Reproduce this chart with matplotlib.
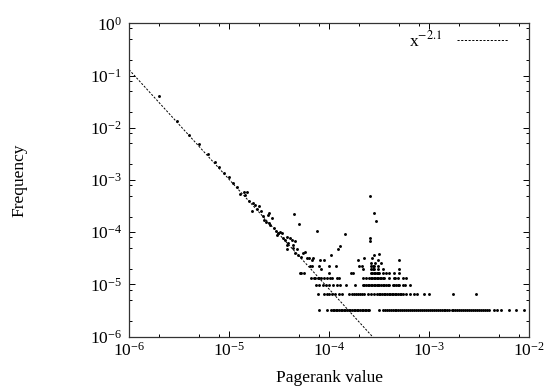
import numpy as np
import matplotlib
matplotlib.use("Agg")
import matplotlib.pyplot as plt
from matplotlib.ticker import LogLocator, NullFormatter

plt.rcParams['font.family'] = ['Liberation Serif', 'DejaVu Serif']
plt.rcParams['mathtext.fontset'] = 'stix'

# pagerank values / frequencies that sit off the quantised rows
free_x = [2.0e-6, 3.0e-6, 4.0e-6, 5.0e-6, 6.1e-6, 7.2e-6, 8.0e-6, 9.0e-6, 1.0e-5, 1.1e-5,
          1.2e-5, 1.3e-5, 1.41e-5, 1.45e-5, 1.5e-5, 1.6e-5, 1.7e-5, 1.73e-5, 1.82e-5, 1.92e-5,
          2.0e-5, 2.07e-5, 2.17e-5, 2.22e-5, 2.37e-5, 2.43e-5, 2.5e-5, 2.5e-5, 2.6e-5, 2.72e-5,
          2.8e-5, 2.95e-5, 3.0e-5, 3.1e-5, 3.2e-5, 3.35e-5, 3.5e-5, 3.64e-5, 3.8e-5, 3.8e-5,
          3.8e-5, 3.93e-5, 4.1e-5, 4.25e-5, 4.35e-5, 4.4e-5, 4.6e-5, 4.6e-5, 4.75e-5, 4.9e-5,
          5.2e-5, 5.55e-5, 5.75e-5, 6.0e-5, 6.35e-5, 6.7e-5, 6.95e-5, 6.4e-5, 6.8e-5, 7.9e-5,
          8.4e-5, 9.0e-5, 4.5e-5, 5.0e-5, 7.5e-5, 8.2e-5, 1.0e-4, 1.18e-4, 1.04e-4, 1.23e-4,
          1.28e-4, 1.43e-4, 1.95e-4, 2.0e-4, 2.12e-4, 2.17e-4, 2.26e-4,
          2.58e-4, 2.8e-4, 2.95e-4, 2.56e-4, 2.56e-4, 2.7e-4, 2.83e-4, 3.19e-4, 3.1e-4, 3.32e-4,
          5.06e-4, 2.63e-4, 2.73e-4, 2.83e-4, 3.1e-4, 2.63e-4, 2.73e-4, 2.83e-4, 3.1e-4, 3.44e-4,
          5.06e-4, 2.63e-4, 2.9e-4]
free_y = [4.0e-2, 1.36e-2, 7.4e-3, 4.9e-3, 3.2e-3, 2.2e-3, 1.75e-3, 1.38e-3, 1.14e-3, 8.7e-4,
          7.2e-4, 5.4e-4, 6.0e-4, 5.2e-4, 6.0e-4, 4.0e-4, 2.56e-4, 3.6e-4, 3.3e-4, 2.75e-4,
          3.2e-4, 2.6e-4, 2.05e-4, 1.72e-4, 1.6e-4, 2.14e-4, 2.3e-4, 1.49e-4, 1.38e-4, 1.85e-4,
          1.19e-4, 1.06e-4, 8.9e-5, 9.6e-5, 1.0e-4, 9.6e-5, 7.7e-5, 7.1e-5, 8.2e-5, 5.7e-5,
          4.8e-5, 6.2e-5, 7.7e-5, 7.1e-5, 5.7e-5, 5.0e-5, 6.8e-5, 4.0e-5, 4.8e-5, 3.7e-5,
          3.4e-5, 4.0e-5, 4.2e-5, 3.27e-5, 3.27e-5, 2.94e-5, 3.27e-5, 2.29e-5, 2.29e-5, 2.29e-5,
          1.96e-5, 2.94e-5, 2.24e-4, 1.44e-4, 1.05e-4, 2.94e-5, 2.29e-5, 2.29e-5, 3.6e-5, 4.8e-5,
          5.5e-5, 9.3e-5, 2.94e-5, 2.29e-5, 2.29e-5, 1.96e-5, 3.27e-5,
          4.95e-4, 2.37e-4, 1.67e-4, 7.9e-5, 6.8e-5, 3.27e-5, 3.6e-5, 3.9e-5, 2.94e-5, 2.62e-5,
          2.94e-5, 2.29e-5, 2.29e-5, 2.29e-5, 2.29e-5, 1.96e-5, 1.96e-5, 1.96e-5, 1.96e-5, 1.96e-5,
          1.96e-5, 2.62e-5, 2.62e-5]

# frequencies of 1..5 pages, and the pagerank values found on each row
row_freq = [3.27e-6, 6.54e-6, 9.8e-6, 1.31e-5, 1.63e-5]
row1_x = [7.9e-5, 9.5e-5, 1.05e-4, 1.09e-4, 1.13e-4, 1.17e-4, 1.21e-4, 1.26e-4, 1.31e-4, 1.36e-4,
          1.41e-4, 1.46e-4, 1.52e-4, 1.58e-4, 1.64e-4, 1.7e-4, 1.76e-4, 1.83e-4, 1.9e-4, 1.97e-4,
          2.05e-4, 2.13e-4, 2.2e-4, 2.29e-4, 2.37e-4, 2.46e-4, 2.54e-4, 3.19e-4, 3.44e-4, 3.6e-4,
          3.77e-4, 3.95e-4, 4.13e-4, 4.32e-4, 4.52e-4, 4.73e-4, 4.95e-4, 5.18e-4, 5.42e-4, 5.67e-4,
          5.93e-4, 6.2e-4, 6.5e-4, 6.8e-4, 7.1e-4, 7.45e-4, 7.8e-4, 8.15e-4, 8.5e-4, 8.9e-4,
          9.3e-4, 9.75e-4, 1.02e-3, 1.07e-3, 1.12e-3, 1.17e-3, 1.22e-3, 1.28e-3, 1.34e-3, 1.4e-3,
          1.46e-3, 1.53e-3, 1.6e-3, 1.68e-3, 1.75e-3, 1.83e-3, 1.92e-3, 2.01e-3, 2.1e-3, 2.2e-3,
          2.3e-3, 2.4e-3, 2.52e-3, 2.63e-3, 2.75e-3, 2.88e-3, 3.02e-3, 3.15e-3, 3.3e-3, 3.45e-3,
          3.6e-3, 3.8e-3, 4.0e-3, 4.5e-3, 4.8e-3, 5.2e-3, 6.3e-3, 7.4e-3, 8.9e-3]
row2_x = [7.7e-5, 9.0e-5, 9.5e-5, 1.01e-4, 1.08e-4, 1.16e-4, 1.25e-4, 1.35e-4, 1.6e-4, 1.68e-4,
          1.76e-4, 1.85e-4, 1.95e-4, 2.05e-4, 2.15e-4, 2.26e-4, 2.44e-4, 2.63e-4, 2.84e-4, 3.03e-4,
          3.15e-4, 3.27e-4, 3.4e-4, 3.53e-4, 3.67e-4, 3.8e-4, 3.95e-4, 4.1e-4, 4.25e-4, 4.4e-4,
          4.55e-4, 4.7e-4, 4.9e-4, 5.1e-4, 5.3e-4, 5.5e-4, 5.9e-4, 6.5e-4, 7.0e-4, 7.6e-4,
          8.9e-4, 1.0e-3, 1.72e-3, 2.94e-3]
row3_x = [7.45e-5, 8.0e-5, 8.7e-5, 9.4e-5, 1.01e-4, 1.09e-4, 1.2e-4, 1.29e-4, 1.49e-4, 1.84e-4,
          2.17e-4, 2.26e-4, 2.35e-4, 2.44e-4, 2.54e-4, 2.63e-4, 2.72e-4, 2.81e-4, 2.9e-4, 3.0e-4,
          3.1e-4, 3.19e-4, 3.3e-4, 3.44e-4, 3.58e-4, 3.72e-4, 3.86e-4, 4.0e-4, 4.34e-4, 4.5e-4,
          4.69e-4, 4.86e-4, 5.06e-4, 5.46e-4, 5.7e-4, 6.4e-4]
row4_x = [6.6e-5, 7.0e-5, 7.3e-5, 7.7e-5, 8.0e-5, 8.4e-5, 9.0e-5, 9.5e-5, 1.03e-4, 1.08e-4,
          1.19e-4, 1.27e-4, 2.17e-4, 2.35e-4, 2.54e-4, 2.63e-4, 2.72e-4, 2.81e-4, 2.9e-4, 3.0e-4,
          3.1e-4, 3.2e-4, 3.32e-4, 3.44e-4, 3.58e-4, 3.95e-4, 4.5e-4, 4.6e-4, 4.86e-4, 5.46e-4,
          5.9e-4]
row5_x = [5.1e-5, 5.3e-5, 5.6e-5, 1.0e-4, 1.67e-4, 1.73e-4, 2.63e-4, 2.72e-4, 2.81e-4, 2.9e-4,
          3.0e-4, 3.1e-4, 3.19e-4, 3.44e-4, 3.72e-4, 4.0e-4, 4.5e-4, 5.06e-4]
rows_x = [row1_x, row2_x, row3_x, row4_x, row5_x]

# fitted power law  c * x^-2.1
fit_exp = -2.1
fit_coef = 10 ** -13.486

fig = plt.figure(figsize=(5.44, 3.92), dpi=100)
ax = fig.add_axes([129 / 544, 1 - 336.7 / 392, 400 / 544, 313.4 / 392])

dot = dict(linestyle='none', marker='o', ms=2.1, mew=0, color='black')
ax.plot(free_x, free_y, **dot)
for f, xs in zip(row_freq, rows_x):
    ax.plot(xs, [f] * len(xs), **dot)

xx = np.logspace(-6, -2, 200)
ax.plot(xx, fit_coef * xx ** fit_exp, color='black', lw=0.7, dashes=(2.2, 1.6),
        label='x$^{-2.1}$')

ax.set_xscale('log')
ax.set_yscale('log')
ax.set_xlim(1e-6, 1e-2)
ax.set_ylim(1e-6, 1)

for axis in (ax.xaxis, ax.yaxis):
    axis.set_major_locator(LogLocator(base=10, numticks=20))
    axis.set_minor_locator(LogLocator(base=10, subs=(2, 5, 8), numticks=20))
    axis.set_minor_formatter(NullFormatter())
ax.tick_params(which='both', direction='in', top=True, right=True, labelsize=12.5, width=0.7)
ax.tick_params(which='major', length=4)
ax.tick_params(which='minor', length=2.3)
ax.tick_params(axis='y', pad=5)
ax.tick_params(axis='x', pad=4)
for s in ax.spines.values():
    s.set_linewidth(0.9)
    s.set_color('#333333')

ax.set_xlabel('Pagerank value', fontsize=12.5, labelpad=7)
ax.set_ylabel('Frequency', fontsize=12.5, labelpad=45)

ax.legend(loc='upper right', bbox_to_anchor=(0.96, 0.995), frameon=False,
          markerfirst=False, fontsize=12.5, handlelength=2.9, borderaxespad=0,
          handletextpad=0.9, borderpad=0.3)

fig.savefig('out.png', dpi=100)
